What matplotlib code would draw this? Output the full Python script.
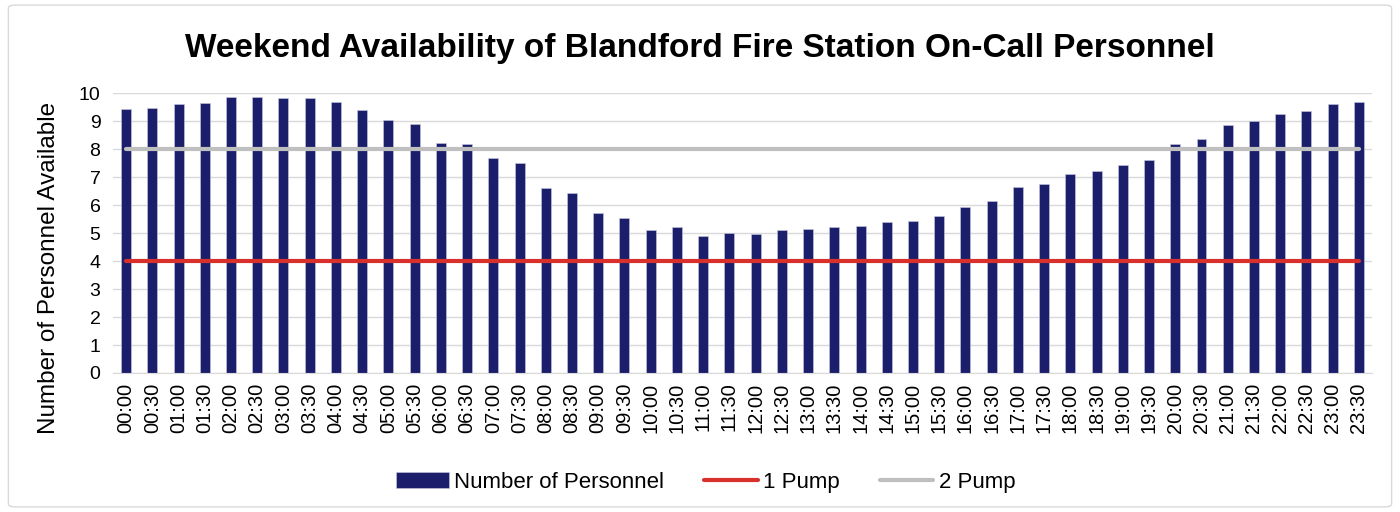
import matplotlib
matplotlib.use("Agg")
import matplotlib.pyplot as plt
import numpy as np
from matplotlib.patches import FancyBboxPatch

plt.rcParams['font.family'] = ['Liberation Sans', 'DejaVu Sans']

# half-hour slots across the day
horas = ["%02d:%02d" % (h, m) for h in range(24) for m in (0, 30)]

pessoal = [9.43, 9.48, 9.61, 9.64, 9.86, 9.86, 9.83, 9.83, 9.67, 9.39, 9.04, 8.90,
           8.21, 8.19, 7.69, 7.49, 6.61, 6.44, 5.71, 5.54, 5.12, 5.20, 4.90, 4.99,
           4.98, 5.12, 5.14, 5.21, 5.27, 5.38, 5.44, 5.60, 5.95, 6.14, 6.63, 6.77,
           7.12, 7.23, 7.44, 7.62, 8.18, 8.35, 8.88, 9.00, 9.26, 9.38, 9.62, 9.67]
bomba1 = [4] * len(horas)
bomba2 = [8] * len(horas)

fig = plt.figure(figsize=(14, 5.12), dpi=100)
ax = fig.add_axes([0.0807, 0.2715, 0.8993, 0.5465])

x = np.arange(len(horas))
b = ax.bar(x, pessoal, width=0.38, color="#1b1f6b", edgecolor="#c9cbe0", linewidth=0.4,
           label="Number of Personnel", zorder=2)
l1, = ax.plot(x, bomba1, color="#d8302a", linewidth=3, solid_capstyle="round", label="1 Pump", zorder=3)
l2, = ax.plot(x, bomba2, color="#bfbfbf", linewidth=3, solid_capstyle="round", label="2 Pump", zorder=3)

ax.set_xlim(-0.5, len(horas) - 0.5)
ax.set_ylim(0, 10)
ax.set_yticks(range(0, 11))
ax.set_xticks(x)
ax.set_xticklabels(horas, rotation=90, fontsize=14.5)
ax.tick_params(axis="y", labelsize=14, length=0, pad=9)
ax.tick_params(axis="x", length=0, pad=7)
ax.grid(axis="y", color="#d9d9d9", linewidth=1, zorder=0)
for s in ["top", "right", "left"]:
    ax.spines[s].set_visible(False)
ax.spines["bottom"].set_color("#d9d9d9")

ax.set_ylabel("Number of Personnel Available", fontsize=17.5)
ax.yaxis.set_label_coords(-0.042, 0.375)
fig.text(0.5, 0.906, "Weekend Availability of Blandford Fire Station On-Call Personnel",
         ha="center", va="center", fontsize=24, fontweight="bold")

fig.legend([b, l1, l2], ["Number of Personnel", "1 Pump", "2 Pump"],
           loc="center", bbox_to_anchor=(0.504, 0.058), ncol=3, frameon=False,
           fontsize=16, handlelength=2.4, handletextpad=0.25, columnspacing=1.8)

# borda clara em volta do gráfico
fig.patches.append(FancyBboxPatch((0.006, 0.01), 0.988, 0.98, boxstyle="round,pad=0,rounding_size=0.005",
                                  transform=fig.transFigure, fill=False, edgecolor="#d9d9d9", linewidth=1))

fig.savefig("out.png", dpi=100)
